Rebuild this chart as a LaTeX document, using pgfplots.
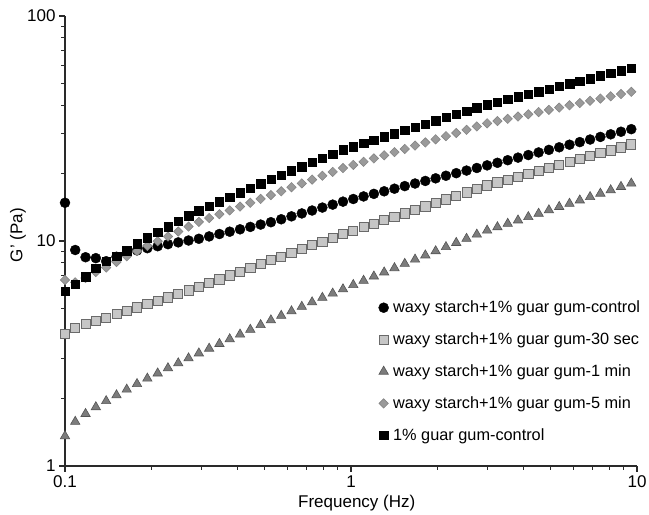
\documentclass[border=0pt]{standalone}
\usepackage{fontspec}
\setmainfont{Liberation Sans}
\usepackage{pgfplots}
\usepackage{pgfplotstable}
\pgfplotsset{compat=1.18}
\definecolor{sqfill}{HTML}{C6C6C6}
\definecolor{sqedge}{HTML}{6A6A6A}
\definecolor{trifill}{HTML}{7C7C7C}
\definecolor{triedge}{HTML}{545454}
\definecolor{diafill}{HTML}{9A9A9A}
\definecolor{diaedge}{HTML}{858585}
\definecolor{axcol}{HTML}{2A2A2A}

\pgfplotstableread{
f C GS T D BS
0.1000 14.79 3.85 1.358 6.71 6.00
0.1086 9.12 4.12 1.574 6.55 6.44
0.1180 8.47 4.27 1.706 6.85 6.93
0.1282 8.39 4.42 1.828 7.28 7.57
0.1393 8.13 4.57 1.945 7.62 8.15
0.1514 8.51 4.73 2.065 8.07 8.57
0.1644 8.83 4.90 2.188 8.55 9.06
0.1786 9.08 5.07 2.317 9.02 9.72
0.1941 9.29 5.25 2.449 9.51 10.35
0.2109 9.48 5.43 2.582 9.98 10.96
0.2291 9.68 5.62 2.723 10.47 11.59
0.2489 9.86 5.82 2.864 11.02 12.27
0.2704 10.05 6.03 3.013 11.59 12.97
0.2938 10.23 6.24 3.170 12.16 13.65
0.3192 10.48 6.49 3.327 12.65 14.29
0.3467 10.74 6.75 3.491 13.15 14.96
0.3767 11.00 7.03 3.664 13.68 15.67
0.4093 11.27 7.31 3.846 14.22 16.41
0.4446 11.55 7.60 4.036 14.79 17.18
0.4831 11.83 7.91 4.236 15.38 17.99
0.5248 12.12 8.22 4.446 16.00 18.79
0.5702 12.49 8.53 4.656 16.63 19.63
0.6194 12.87 8.87 4.875 17.34 20.51
0.6730 13.26 9.20 5.105 18.03 21.38
0.7311 13.66 9.57 5.346 18.75 22.34
0.7943 14.08 9.93 5.598 19.50 23.33
0.8630 14.51 10.33 5.848 20.28 24.32
0.9376 14.96 10.72 6.109 21.09 25.41
1.0186 15.37 11.11 6.383 21.78 26.30
1.1066 15.78 11.51 6.668 22.49 27.16
1.2023 16.20 11.93 6.966 23.28 28.12
1.3062 16.63 12.36 7.261 24.04 29.04
1.4191 17.08 12.81 7.586 24.83 29.99
1.5417 17.54 13.27 7.925 25.64 31.05
1.6749 18.01 13.76 8.279 26.55 32.06
1.8197 18.49 14.26 8.64 27.42 33.11
1.9770 18.99 14.77 9.02 28.31 34.28
2.1478 19.50 15.31 9.41 29.24 35.40
2.3335 20.02 15.87 9.82 30.20 36.56
2.5351 20.56 16.44 10.24 31.19 37.76
2.7542 21.11 17.04 10.69 32.28 39.08
2.9923 21.68 17.66 11.14 33.34 40.36
3.2509 22.26 18.20 11.53 34.12 41.50
3.5318 22.86 18.75 11.94 34.91 42.56
3.8371 23.47 19.32 12.36 35.73 43.75
4.1687 24.10 19.91 12.79 36.56 44.87
4.5290 24.75 20.51 13.24 37.41 46.13
4.9204 25.41 21.13 13.71 38.28 47.42
5.3456 26.09 21.78 14.19 39.17 48.64
5.8076 26.79 22.44 14.66 40.09 50.00
6.3096 27.51 23.12 15.17 41.02 51.29
6.8549 28.25 23.82 15.70 41.98 52.72
7.4473 29.01 24.55 16.26 42.95 54.20
8.0910 29.79 25.29 16.83 43.95 55.59
8.7902 30.59 26.06 17.42 44.98 57.15
9.5499 31.41 26.85 18.03 46.03 58.61
}\datatable

\begin{document}
\begin{tikzpicture}
\begin{axis}[
  scale only axis,
  width=572bp, height=450bp,
  xmode=log, ymode=log,
  xmin=0.1, xmax=10, ymin=1, ymax=100,
  axis x line*=bottom, axis y line*=left,
  xtick pos=bottom, ytick pos=left,
  tick align=outside,
  axis line style={line width=1.5bp, draw=axcol},
  every tick/.style={line width=1.1bp, draw=axcol},
  major tick length=6bp, minor tick length=4bp,
  xtick={0.1,1,10}, xticklabels={0.1,1,10},
  ytick={1,10,100}, yticklabels={1,10,100},
  minor xtick={0.2,0.3,0.4,0.5,0.6,0.7,0.8,0.9,2,3,4,5,6,7,8,9},
  minor ytick={2,3,4,5,6,7,8,9,20,30,40,50,60,70,80,90},
  ticklabel style={font=\fontsize{17bp}{20bp}\selectfont},
  /pgf/number format/assume math mode=true,
  xlabel={Frequency (Hz)},
  ylabel={G' (Pa)},
  label style={font=\fontsize{17bp}{20bp}\selectfont},
  xlabel style={at={(axis description cs:0.51,-0.082)}, anchor=center},
  ylabel style={at={(axis description cs:-0.082,0.513)}, anchor=center, rotate=0},
  clip=false,
  legend cell align=left,
  legend image code/.code={\draw[#1] plot coordinates {(0bp,0bp)};},
  legend style={at={(0.548,0.367)}, anchor=north west, draw=none, fill=none,
    inner sep=0pt, row sep=18.6bp,
    font=\fontsize{16.3bp}{19bp}\selectfont,
    nodes={inner sep=0pt},
    /tikz/every odd column/.append style={column sep=4.5bp}},
]
\addplot[only marks, mark=*, mark size=5bp, draw=black, fill=black]
  table[x=f, y=C] {\datatable};
\addlegendentry{waxy starch+1\% guar gum-control}
\addplot[only marks, mark=square*, mark size=4.6bp, draw=sqedge, fill=sqfill, line width=0.8bp]
  table[x=f, y=GS] {\datatable};
\addlegendentry{waxy starch+1\% guar gum-30 sec}
\addplot[only marks, mark=triangle*, mark size=5.4bp, draw=triedge, fill=trifill, line width=0.6bp]
  table[x=f, y=T] {\datatable};
\addlegendentry{waxy starch+1\% guar gum-1 min}
\addplot[only marks, mark=square*, mark size=3.3bp, mark options={rotate=45}, draw=diaedge, fill=diafill, line width=0.6bp]
  table[x=f, y=D] {\datatable};
\addlegendentry{waxy starch+1\% guar gum-5 min}
\addplot[only marks, mark=square*, mark size=4.2bp, draw=black, fill=black]
  table[x=f, y=BS] {\datatable};
\addlegendentry{1\% guar gum-control}
\end{axis}
\pgfresetboundingbox
\path ([shift={(-65bp,-49bp)}]current axis.south west) rectangle ([shift={(12bp,16bp)}]current axis.north east);
\end{tikzpicture}
\end{document}
